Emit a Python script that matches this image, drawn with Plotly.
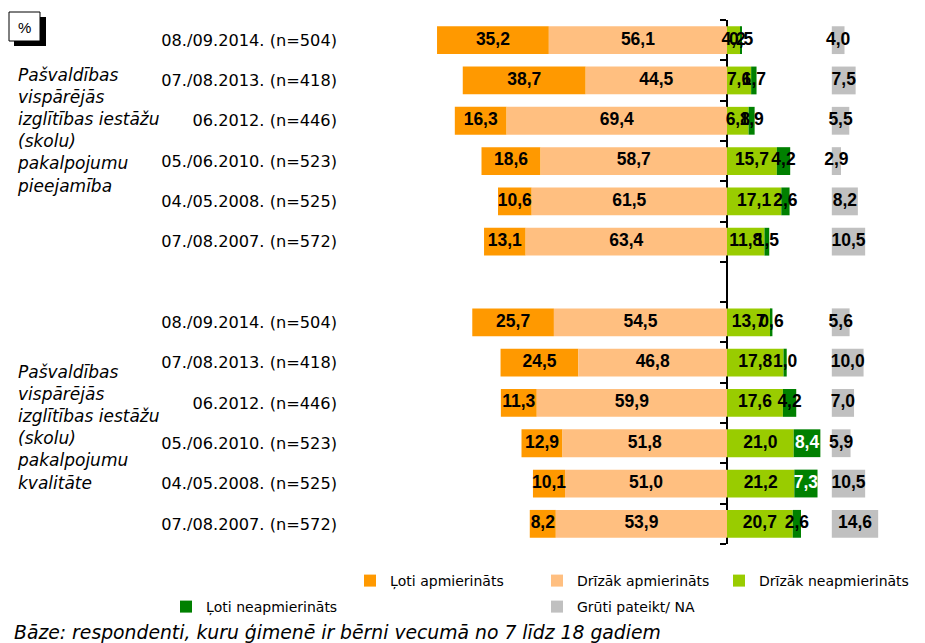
import plotly.graph_objects as go

# ---------------- data ----------------
dates = ["08./09.2014. (n=504)", "07./08.2013. (n=418)", "06.2012. (n=446)",
         "05./06.2010. (n=523)", "04./05.2008. (n=525)", "07./08.2007. (n=572)"]
row_labels = dates + dates
row_pos = [0, 1, 2, 3, 4, 5, 7, 8, 9, 10, 11, 12]

group_labels = [
    "Pašvaldības<br>vispārējās<br>izglītības iestāžu<br>(skolu)<br>pakalpojumu<br>pieejamība",
    "Pašvaldības<br>vispārējās<br>izglītības iestāžu<br>(skolu)<br>pakalpojumu<br>kvalitāte",
]
group_center = [2.23, 9.62]

series_names = ["Ļoti apmierināts", "Drīzāk apmierināts", "Drīzāk neapmierināts",
                "Ļoti neapmierināts", "Grūti pateikt/ NA"]
loti_apm = [35.2, 38.7, 16.3, 18.6, 10.6, 13.1, 25.7, 24.5, 11.3, 12.9, 10.1, 8.2]
drizak_apm = [56.1, 44.5, 69.4, 58.7, 61.5, 63.4, 54.5, 46.8, 59.9, 51.8, 51.0, 53.9]
drizak_neapm = [4.2, 7.6, 6.8, 15.7, 17.1, 11.8, 13.7, 17.8, 17.6, 21.0, 21.2, 20.7]
loti_neapm = [0.5, 1.7, 1.9, 4.2, 2.6, 1.5, 0.6, 1.0, 4.2, 8.4, 7.3, 2.6]
gruti = [4.0, 7.5, 5.5, 2.9, 8.2, 10.5, 5.6, 10.0, 7.0, 5.9, 10.5, 14.6]

footnote = "Bāze: respondenti, kuru ģimenē ir bērni vecumā no 7 līdz 18 gadiem"

# ---------------- style ----------------
colors = ["#FF9900", "#FFBF80", "#99CC00", "#008000", "#C0C0C0"]
FONT = "Liberation Sans, Arial, sans-serif"
WIDE = "DejaVu Sans, Verdana, sans-serif"
OFF = 8                      # page body margin of the html page
W, H = 925 - OFF, 643 - OFF
# plot area in screen pixels
P_L, P_R, P_T, P_B = 338, 890, 20, 544
ML, MR, MT, MB = P_L - OFF, W - (P_R - OFF), P_T - OFF, H - (P_B - OFF)
GRAY_OFFSET = 33.0
ZERO_PX, UNIT_PX = 727, 3.176
XRANGE = [(P_L - ZERO_PX) / UNIT_PX, (P_R - ZERO_PX) / UNIT_PX]
BAR_W = 0.69

plot_w = W - ML - MR
plot_h = H - MT - MB


def px_x(px):  # screen px -> paper
    return (px - OFF - ML) / plot_w


def px_y(py):
    return 1 - (py - OFF - MT) / plot_h


def fmt(v):
    return f"{v:.1f}".replace(".", ",")


fig = go.Figure()

base_da = [-v for v in drizak_apm]
base_la = [-(a + b) for a, b in zip(loti_apm, drizak_apm)]
base_dn = [0.0] * len(drizak_neapm)
base_ln = list(drizak_neapm)
base_gr = [GRAY_OFFSET] * len(gruti)

series = [
    (series_names[0], loti_apm, base_la, colors[0], "legend"),
    (series_names[1], drizak_apm, base_da, colors[1], "legend2"),
    (series_names[2], drizak_neapm, base_dn, colors[2], "legend3"),
    (series_names[3], loti_neapm, base_ln, colors[3], "legend4"),
    (series_names[4], gruti, base_gr, colors[4], "legend5"),
]

for name, vals, base, col, leg in series:
    fig.add_trace(go.Bar(
        orientation="h", y=row_pos, x=vals, base=base, name=name,
        width=BAR_W, marker=dict(color=col, line=dict(width=0)),
        legend=leg, hoverinfo="skip",
    ))

# value labels
tx, ty, tt, tc = [], [], [], []
for name, vals, base, col, leg in series:
    for p, v, b in zip(row_pos, vals, base):
        tx.append(b + v / 2)
        ty.append(p)
        tt.append(fmt(v))
        tc.append("white" if (col == colors[3] and v >= 5) else "black")
fig.add_trace(go.Scatter(
    x=tx, y=ty, text=tt, mode="text", textposition="middle center",
    textfont=dict(family=FONT, size=17.5, color=tc, weight="bold"),
    showlegend=False, hoverinfo="skip",
))

# invisible trace carrying the zero axis
fig.add_trace(go.Scatter(x=[0], y=[row_pos[0]], yaxis="y2", mode="markers",
                         marker=dict(opacity=0), showlegend=False, hoverinfo="skip"))

boundaries = [p - 0.5 for p in range(row_pos[-1] + 2)]
zero_pos = -XRANGE[0] / (XRANGE[1] - XRANGE[0])

legend_text_x = [391, 578, 760, 207, 578]   # screen px where legend text starts
legend_row_y = [580, 580, 580, 606, 606]    # screen px of legend row centre
legends = {}
for i, (tx0, ty0) in enumerate(zip(legend_text_x, legend_row_y)):
    key = "legend" if i == 0 else f"legend{i + 1}"
    legends[key] = dict(orientation="h", x=px_x(tx0 - 41), xanchor="left",
                        y=px_y(ty0 - 15), yanchor="top",
                        font=dict(size=14, family=WIDE, color="black"),
                        bgcolor="rgba(0,0,0,0)", itemclick=False, itemdoubleclick=False)

fig.update_layout(
    template="none",
    width=W, height=H,
    margin=dict(l=ML, r=MR, t=MT, b=MB, autoexpand=False),
    paper_bgcolor="white", plot_bgcolor="white",
    barmode="overlay",
    font=dict(family=FONT, color="black"),
    xaxis=dict(range=XRANGE, showgrid=False, zeroline=False, showticklabels=False,
               showline=False, ticks="", fixedrange=True, automargin=False),
    yaxis=dict(range=[row_pos[-1] + 0.5, row_pos[0] - 0.5], tickvals=row_pos,
               ticktext=row_labels, showgrid=False, zeroline=False, showline=False,
               ticks="", automargin=False,
               tickfont=dict(size=16.2, color="black", family=WIDE)),
    yaxis2=dict(overlaying="y", matches="y", anchor="free", position=zero_pos,
                side="left", showline=True, linecolor="black", linewidth=2,
                ticks="outside", ticklen=6, tickwidth=2, tickcolor="black",
                tickvals=boundaries, showticklabels=False, showgrid=False,
                zeroline=False, layer="below traces", automargin=False),
    showlegend=True,
    **legends,
)

# group labels
for txt, yc in zip(group_labels, group_center):
    fig.add_annotation(x=px_x(15), xref="paper", y=yc, yref="y", text=txt,
                       showarrow=False, xanchor="left", yanchor="middle", align="left",
                       font=dict(size=17, family=WIDE, style="italic", color="black"))

# footnote
fig.add_annotation(x=px_x(12), xref="paper", y=px_y(632), yref="paper", text=footnote,
                   showarrow=False, xanchor="left", yanchor="middle", align="left",
                   font=dict(size=18.8, family=WIDE, style="italic", color="black"))

# % box with shadow
fig.add_shape(type="rect", xref="paper", yref="paper", x0=px_x(14), x1=px_x(46),
              y0=px_y(46), y1=px_y(17), fillcolor="black", line=dict(width=0))
fig.add_shape(type="rect", xref="paper", yref="paper", x0=px_x(9), x1=px_x(40),
              y0=px_y(41), y1=px_y(12), fillcolor="white", line=dict(color="black", width=1))
fig.add_annotation(x=px_x(24.5), xref="paper", y=px_y(27), yref="paper", text="%",
                   showarrow=False, xanchor="center", yanchor="middle",
                   font=dict(size=15, family=FONT, color="black"))

fig.write_html("out.html")
